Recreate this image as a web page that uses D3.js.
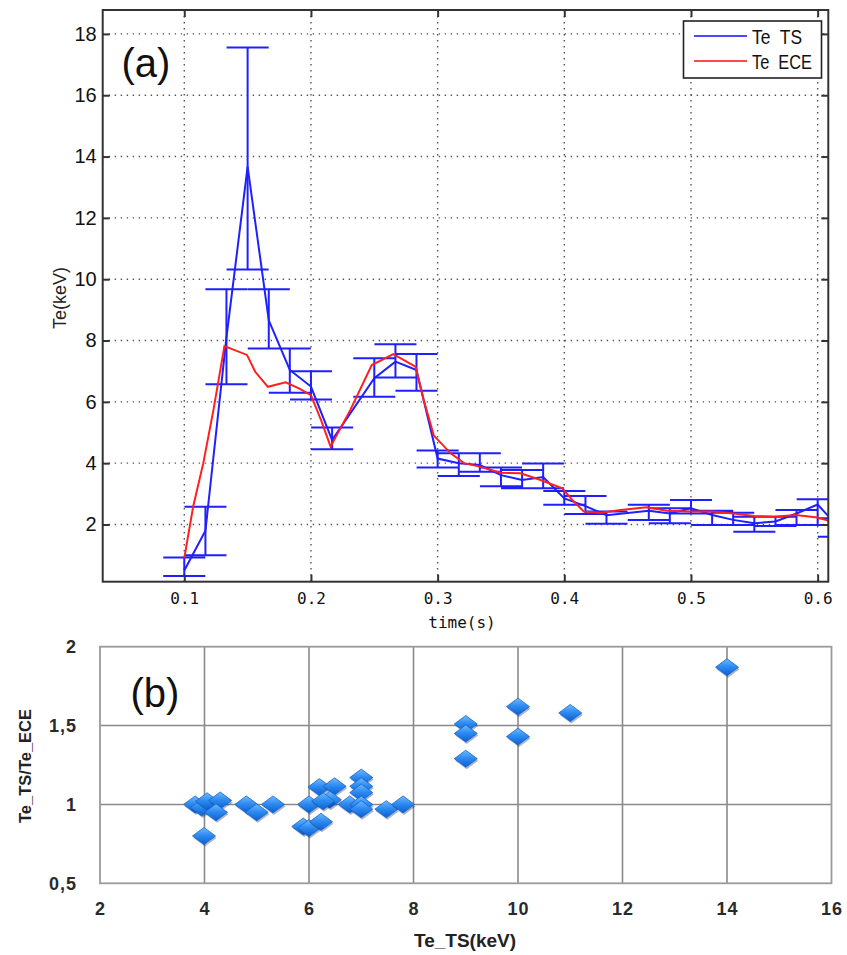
<!DOCTYPE html>
<html><head><meta charset="utf-8">
<script src="https://cdn.jsdelivr.net/npm/d3@7"></script>
<style>html,body{margin:0;padding:0;background:#fff}</style>
</head><body><svg id="c" width="847" height="955" xmlns="http://www.w3.org/2000/svg"></svg>
<script>
// ---------- Panel (a) data ----------
const tsTime  = [0.1, 0.1167, 0.1333, 0.15, 0.1667, 0.1833, 0.2, 0.2167, 0.25, 0.2667, 0.2833, 0.3, 0.3167, 0.3333, 0.35, 0.3667, 0.3833, 0.4, 0.4167, 0.4333, 0.4667, 0.4833, 0.5, 0.5167, 0.5333, 0.55, 0.5667, 0.5833, 0.6, 0.6167];
const tsValue = [0.5, 1.8, 8.1, 13.67, 8.66, 7.04, 6.5, 4.75, 6.77, 7.31, 7.04, 4.15, 4.0, 3.94, 3.61, 3.45, 3.55, 2.85, 2.6, 2.3, 2.45, 2.36, 2.53, 2.31, 2.15, 2.04, 2.1, 2.36, 2.65, 1.9];
const tsLow   = [0.32, 1.0, 6.57, 10.32, 7.74, 6.3, 6.08, 4.45, 6.17, 6.79, 6.36, 3.86, 3.58, 3.72, 3.25, 3.18, 3.18, 2.64, 2.34, 2.02, 2.15, 2.04, 2.36, 1.98, 1.98, 1.76, 1.95, 1.98, 1.98, 1.6];
const tsHigh  = [0.92, 2.58, 9.67, 17.56, 9.67, 7.74, 7.0, 5.16, 7.42, 7.88, 7.56, 4.41, 4.32, 4.32, 3.86, 3.78, 3.99, 3.09, 2.93, 2.42, 2.64, 2.53, 2.8, 2.45, 2.38, 2.25, 2.25, 2.47, 2.82, 2.2];
const eceTime  = [0.1, 0.107, 0.115, 0.123, 0.1317, 0.1495, 0.156, 0.166, 0.18, 0.1905, 0.2, 0.208, 0.2155, 0.231, 0.248, 0.265, 0.2825, 0.289, 0.297, 0.3103, 0.3208, 0.334, 0.3497, 0.3655, 0.3813, 0.3984, 0.4063, 0.4155, 0.4287, 0.4445, 0.465, 0.481, 0.4997, 0.5168, 0.5339, 0.5497, 0.5655, 0.5826, 0.5997, 0.609];
const eceValue = [0.9, 2.58, 4.0, 5.73, 7.82, 7.53, 6.98, 6.49, 6.64, 6.44, 6.22, 5.4, 4.54, 5.73, 7.2, 7.56, 7.15, 6.06, 4.9, 4.32, 4.0, 3.88, 3.69, 3.67, 3.45, 3.18, 2.8, 2.42, 2.38, 2.47, 2.56, 2.45, 2.42, 2.42, 2.36, 2.28, 2.25, 2.31, 2.23, 2.12];
const aXTicks = [0.1, 0.2, 0.3, 0.4, 0.5, 0.6];
const aYTicks = [2, 4, 6, 8, 10, 12, 14, 16, 18];
const legendLabels = ["Te  TS", "Te  ECE"];

// ---------- Panel (b) data ----------
const ratioTS  = [3.82, 3.95, 4.05, 4.3, 4.22, 3.99, 4.8, 5.0, 5.31, 6.0, 5.89, 6.0, 6.23, 6.2, 6.49, 6.4, 6.27, 6.78, 7.0, 7.0, 7.0, 7.0, 7.0, 7.48, 7.8, 9.0, 9.0, 9.0, 10.0, 10.0, 11.0, 14.0];
const ratioVal = [1.0, 0.98, 1.02, 1.025, 0.95, 0.8, 1.0, 0.95, 1.0, 1.0, 0.86, 0.85, 0.89, 1.11, 1.115, 1.03, 1.02, 1.0, 1.17, 1.115, 1.075, 1.0, 0.97, 0.97, 1.0, 1.51, 1.45, 1.29, 1.62, 1.43, 1.58, 1.87];
const bXTicks = [2, 4, 6, 8, 10, 12, 14, 16];
const bYTicks = [0.5, 1, 1.5, 2];

const svg = d3.select("#c");

// ================= Panel (a) =================
const ax = d3.scaleLinear().domain([0.0356, 0.6084]).range([102.7, 828.3]);
const ay = d3.scaleLinear().domain([0.134, 18.78]).range([581.7, 10]);
const A = {l: ax.range()[0], r: ax.range()[1], t: ay.range()[1], b: ay.range()[0]};

svg.append("defs").append("clipPath").attr("id", "clipA")
  .append("rect").attr("x", A.l).attr("y", A.t).attr("width", A.r - A.l).attr("height", A.b - A.t);

const gA = svg.append("g");
gA.append("rect").attr("x", A.l).attr("y", A.t).attr("width", A.r - A.l).attr("height", A.b - A.t).attr("fill", "#fff");

// dotted grid
const grid = gA.append("g").attr("stroke", "#555").attr("stroke-width", 1.4).attr("stroke-dasharray", "1.4,4.6");
grid.selectAll("line.gx").data(aXTicks).join("line")
  .attr("x1", d => ax(d)).attr("x2", d => ax(d)).attr("y1", A.t).attr("y2", A.b);
grid.selectAll("line.gy").data(aYTicks).join("line")
  .attr("y1", d => ay(d)).attr("y2", d => ay(d)).attr("x1", A.l).attr("x2", A.r);

// data
const plotA = gA.append("g").attr("clip-path", "url(#clipA)");
const cap = 0.0166;
const ebPath = d3.path();
tsTime.forEach((t, i) => {
  ebPath.moveTo(ax(t), ay(tsLow[i])); ebPath.lineTo(ax(t), ay(tsHigh[i]));
  ebPath.moveTo(ax(t - cap), ay(tsLow[i])); ebPath.lineTo(ax(t + cap), ay(tsLow[i]));
  ebPath.moveTo(ax(t - cap), ay(tsHigh[i])); ebPath.lineTo(ax(t + cap), ay(tsHigh[i]));
});
plotA.append("path").attr("d", ebPath.toString()).attr("fill", "none").attr("stroke", "#1f1fff").attr("stroke-width", 2);

const lineTS = d3.line().x((d, i) => ax(tsTime[i])).y(d => ay(d));
plotA.append("path").attr("d", lineTS(tsValue)).attr("fill", "none").attr("stroke", "#1f1fff").attr("stroke-width", 2);
const lineECE = d3.line().x((d, i) => ax(eceTime[i])).y(d => ay(d));
plotA.append("path").attr("d", lineECE(eceValue)).attr("fill", "none").attr("stroke", "#ff1f1f").attr("stroke-width", 2);

// axes (ticks inside)
const fmtX = d3.format(".1f");
const axB = gA.append("g").attr("transform", `translate(0,${A.b})`)
  .call(d3.axisBottom(ax).tickValues(aXTicks).tickFormat(fmtX).tickSizeInner(-7).tickSizeOuter(0).tickPadding(11));
const axT = gA.append("g").attr("transform", `translate(0,${A.t})`)
  .call(d3.axisTop(ax).tickValues(aXTicks).tickFormat("").tickSizeInner(-7).tickSizeOuter(0));
const axL = gA.append("g").attr("transform", `translate(${A.l},0)`)
  .call(d3.axisLeft(ay).tickValues(aYTicks).tickSizeInner(-7).tickSizeOuter(0).tickPadding(6));
const axR = gA.append("g").attr("transform", `translate(${A.r},0)`)
  .call(d3.axisRight(ay).tickValues(aYTicks).tickFormat("").tickSizeInner(-7).tickSizeOuter(0));
[axB, axT, axL, axR].forEach(g => {
  g.select(".domain").remove();
  g.selectAll(".tick line").attr("stroke", "#333").attr("stroke-width", 2);
});
axB.selectAll("text").attr("font-family", "'DejaVu Sans Mono', monospace").attr("font-size", 16).attr("fill", "#111");
axL.selectAll("text").attr("font-family", "'Liberation Sans', Arial, sans-serif").attr("font-size", 20).attr("fill", "#111");
gA.append("rect").attr("x", A.l).attr("y", A.t).attr("width", A.r - A.l).attr("height", A.b - A.t)
  .attr("fill", "none").attr("stroke", "#333").attr("stroke-width", 2);

gA.append("text").attr("x", 462).attr("y", 628).attr("text-anchor", "middle")
  .attr("font-family", "'DejaVu Sans Mono', monospace").attr("font-size", 16).attr("fill", "#111").text("time(s)");
gA.append("text").attr("transform", "translate(66,298) rotate(-90)").attr("text-anchor", "middle")
  .attr("font-family", "'Liberation Sans', Arial, sans-serif").attr("font-size", 18).attr("fill", "#222").text("Te(keV)");
gA.append("text").attr("x", 146).attr("y", 77).attr("text-anchor", "middle")
  .attr("font-family", "'Liberation Sans', Arial, sans-serif").attr("font-size", 40).attr("fill", "#111").text("(a)");

// legend
const lg = gA.append("g");
lg.append("rect").attr("x", 683.5).attr("y", 21).attr("width", 138).attr("height", 57)
  .attr("fill", "#fff").attr("stroke", "#222").attr("stroke-width", 1.6);
const legColors = ["#4a4aff", "#ff4a4a"];
const legLen = [50, 60];
legendLabels.forEach((lab, i) => {
  const yy = 36 + i * 25;
  lg.append("line").attr("x1", 694).attr("x2", 747).attr("y1", yy).attr("y2", yy)
    .attr("stroke", legColors[i]).attr("stroke-width", 2);
  lg.append("text").attr("x", 752).attr("y", yy).attr("dy", "0.36em")
    .attr("font-family", "'Liberation Sans', Arial, sans-serif")
    .attr("font-size", 21).attr("fill", "#111").style("white-space", "pre")
    .attr("textLength", legLen[i]).attr("lengthAdjust", "spacingAndGlyphs").text(lab);
});

// ================= Panel (b) =================
const bx = d3.scaleLinear().domain([2, 16]).range([100, 831.5]);
const by = d3.scaleLinear().domain([0.5, 2]).range([883.3, 646.7]);
const B = {l: 100, r: 831.5, t: 646.7, b: 883.3};
const gB = svg.append("g");

const defs = svg.select("defs");
const grad = defs.append("linearGradient").attr("id", "dg").attr("x1", 0).attr("y1", 0).attr("x2", 0).attr("y2", 1);
grad.append("stop").attr("offset", "0%").attr("stop-color", "#6cbcff");
grad.append("stop").attr("offset", "45%").attr("stop-color", "#2f8cf2");
grad.append("stop").attr("offset", "100%").attr("stop-color", "#0b5fd2");

const gridB = gB.append("g").attr("stroke", "#8a8a8a").attr("stroke-width", 1.6);
gridB.selectAll("line.x").data(bXTicks.slice(1, -1)).join("line")
  .attr("x1", d => bx(d)).attr("x2", d => bx(d)).attr("y1", B.t).attr("y2", B.b);
gridB.selectAll("line.y").data(bYTicks.slice(1, -1)).join("line")
  .attr("y1", d => by(d)).attr("y2", d => by(d)).attr("x1", B.l).attr("x2", B.r);
gB.append("rect").attr("x", B.l).attr("y", B.t).attr("width", B.r - B.l).attr("height", B.b - B.t)
  .attr("fill", "none").attr("stroke", "#9a9a9a").attr("stroke-width", 1.8);

const fmtComma = d => d3.format("~g")(d).replace(".", ",");
const bxAxis = gB.append("g").attr("transform", `translate(0,${B.b})`)
  .call(d3.axisBottom(bx).tickValues(bXTicks).tickSize(0).tickPadding(19));
const byAxis = gB.append("g").attr("transform", `translate(${B.l},0)`)
  .call(d3.axisLeft(by).tickValues(bYTicks).tickFormat(fmtComma).tickSize(0).tickPadding(23));
[bxAxis, byAxis].forEach(g => {
  g.select(".domain").remove();
  g.selectAll("text").attr("font-family", "'Liberation Sans', Arial, sans-serif").attr("font-weight", "bold")
    .attr("font-size", 18).attr("fill", "#2a2a2a").attr("letter-spacing", 1);
});

const diamond = "M-11.5,0L0,-8.5L11.5,0L0,8.5Z";
const pts = gB.append("g");
ratioTS.forEach((v, i) => {
  const g = pts.append("g").attr("transform", `translate(${bx(v)},${by(ratioVal[i])})`);
  g.append("path").attr("d", diamond).attr("transform", "translate(1,2)").attr("fill", "#0a2d66").attr("opacity", 0.35);
  g.append("path").attr("d", diamond).attr("fill", "url(#dg)").attr("stroke", "#1a62c8").attr("stroke-width", 0.8);
});

gB.append("text").attr("x", 465).attr("y", 947).attr("text-anchor", "middle")
  .attr("font-family", "'Liberation Sans', Arial, sans-serif").attr("font-weight", "bold").attr("font-size", 19)
  .attr("fill", "#222").text("Te_TS(keV)");
gB.append("text").attr("transform", "translate(31,766) rotate(-90)").attr("text-anchor", "middle")
  .attr("font-family", "'Liberation Sans', Arial, sans-serif").attr("font-weight", "bold").attr("font-size", 16.5)
  .attr("fill", "#222").text("Te_TS/Te_ECE");
gB.append("text").attr("x", 155).attr("y", 707).attr("text-anchor", "middle")
  .attr("font-family", "'Liberation Sans', Arial, sans-serif").attr("font-size", 40).attr("fill", "#111").text("(b)");
</script>
</body></html>
